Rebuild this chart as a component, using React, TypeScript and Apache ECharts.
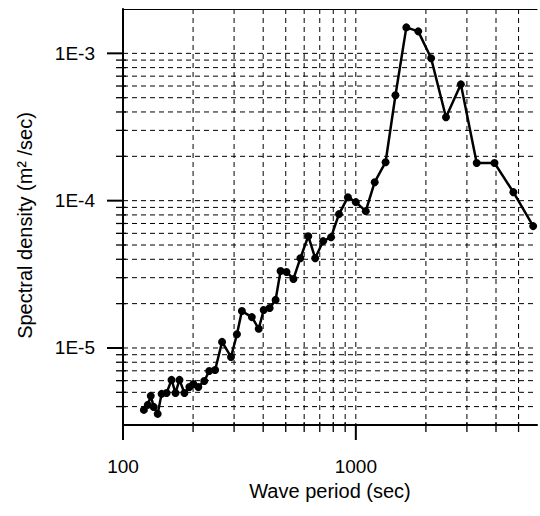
import React, { useEffect, useRef } from 'react';
import * as echarts from 'echarts';

// Wave period (sec)
const periods = [
  122.9, 127.8, 131.6, 135.5, 140.9, 146.5, 153.9, 161.6, 168.1, 174.8,
  183.6, 192.8, 200.5, 210.6, 223.4, 234.6, 248.7, 266.4, 291.0, 308.6,
  324.1, 357.5, 382.8, 402.0, 426.5, 452.3, 475.0, 503.8, 539.6, 577.9,
  624.9, 669.2, 723.7, 782.7, 846.6, 924.7, 1000, 1103, 1205, 1342,
  1480, 1648, 1854, 2106, 2439, 2826, 3305, 3942, 4750, 5777,
];
// Spectral density (m^2/sec)
const density = [
  3.80e-6, 4.11e-6, 4.73e-6, 3.98e-6, 3.57e-6, 4.88e-6, 4.95e-6, 6.07e-6, 4.95e-6, 6.07e-6,
  4.95e-6, 5.44e-6, 5.70e-6, 5.44e-6, 5.97e-6, 6.98e-6, 7.09e-6, 1.10e-5, 8.69e-6, 1.24e-5,
  1.78e-5, 1.62e-5, 1.35e-5, 1.81e-5, 1.87e-5, 2.12e-5, 3.33e-5, 3.28e-5, 2.94e-5, 4.07e-5,
  5.74e-5, 4.07e-5, 5.31e-5, 5.65e-5, 8.10e-5, 1.056e-4, 9.77e-5, 8.49e-5, 1.335e-4, 1.824e-4,
  5.19e-4, 1.50e-3, 1.41e-3, 9.25e-4, 3.68e-4, 6.16e-4, 1.80e-4, 1.80e-4, 1.142e-4, 6.72e-5,
];

const X_MIN = 100;
const X_MAX = 6000;
const Y_MIN = 3e-6;
const Y_MAX = 2e-3;

// tick / grid positions
const xTickValues = [100, 200, 300, 400, 500, 600, 700, 800, 900, 1000, 2000, 3000, 4000, 5000];
const yTickValues = [
  4e-6, 5e-6, 6e-6, 7e-6, 8e-6, 9e-6, 1e-5,
  2e-5, 3e-5, 4e-5, 5e-5, 6e-5, 7e-5, 8e-5, 9e-5, 1e-4,
  2e-4, 3e-4, 4e-4, 5e-4, 6e-4, 7e-4, 8e-4, 9e-4, 1e-3,
];
const xTickLabels: Record<string, string> = { '2': '100', '3': '1000' };
const yTickLabels: Record<string, string> = { '-5': '1E-5', '-4': '1E-4', '-3': '1E-3' };

const FONT = '"Liberation Sans", Arial, Helvetica, sans-serif';

function isDecade(v: number) {
  const e = Math.log10(v);
  return Math.abs(e - Math.round(e)) < 1e-6;
}
function decadeKey(v: number) {
  const e = Math.log10(v);
  if (Math.abs(e - Math.round(e)) > 1e-6) return null;
  return String(Math.round(e));
}

export default function App() {
  const ref = useRef<HTMLDivElement>(null);
  useEffect(() => {
    if (!ref.current) return;
    const chart = echarts.init(ref.current, null, { renderer: 'svg' });
    const dash = [5, 4];
    const option: any = {
      animation: false,
      backgroundColor: '#fff',
      grid: { left: 123, top: 9, width: 418, height: 416 },
      xAxis: [
        {
          type: 'log',
          logBase: 10,
          min: X_MIN,
          max: X_MAX,
          name: 'Wave period (sec)',
          nameLocation: 'middle',
          nameGap: 47,
          nameTextStyle: { fontFamily: FONT, fontSize: 20, color: '#000' },
          axisLine: { show: true, lineStyle: { color: '#000', width: 2 } },
          axisTick: { show: false },
          splitLine: { show: false },
          minorSplitLine: { show: false },
          axisLabel: {
            margin: 32,
            fontFamily: FONT,
            fontSize: 19,
            color: '#000',
            formatter: (v: number) => {
              const k = decadeKey(v);
              return k && xTickLabels[k] ? xTickLabels[k] : '';
            },
          },
        },
        {
          type: 'log',
          logBase: 10,
          min: X_MIN,
          max: X_MAX,
          position: 'top',
          axisLine: { show: true, lineStyle: { color: '#000', width: 1.2 } },
          axisTick: { show: false },
          axisLabel: { show: false },
          splitLine: { show: false },
        },
      ],
      yAxis: {
        type: 'log',
        logBase: 10,
        min: Y_MIN,
        max: Y_MAX,
        name: 'Spectral density (m² /sec)',
        nameLocation: 'middle',
        nameGap: 88,
        nameTextStyle: { fontFamily: FONT, fontSize: 20, color: '#000', padding: [0, 17, 0, 0] },
        axisLine: { show: true, lineStyle: { color: '#000', width: 2 } },
        axisTick: { show: false },
        splitLine: { show: false },
        axisLabel: {
          margin: 28,
          fontFamily: FONT,
          fontSize: 19,
          color: '#000',
          formatter: (v: number) => {
            const k = decadeKey(v);
            return k && yTickLabels[k] ? yTickLabels[k] : '';
          },
        },
      },
      series: [
        {
          type: 'custom',
          z: 1,
          clip: false,
          silent: true,
          data: xTickValues.map((v) => [v, Y_MIN]),
          encode: { x: 0, y: 1 },
          renderItem: (params: any, api: any) => {
            const v = api.value(0);
            const x = api.coord([v, Y_MIN])[0];
            const cs = params.coordSys;
            const top = cs.y;
            const bottom = cs.y + cs.height;
            const major = isDecade(v);
            const children: any[] = [];
            if (v > X_MIN) {
              children.push({
                type: 'line',
                shape: { x1: x, y1: top, x2: x, y2: bottom },
                style: { stroke: '#000', lineWidth: 1, lineDash: dash },
              });
            }
            children.push({
              type: 'line',
              shape: major
                ? { x1: x, y1: bottom, x2: x, y2: bottom + 15 }
                : { x1: x, y1: bottom - 3, x2: x, y2: bottom + 7 },
              style: { stroke: '#000', lineWidth: major ? 2 : 1.3 },
            });
            return { type: 'group', children };
          },
        },
        {
          type: 'custom',
          z: 1,
          clip: false,
          silent: true,
          data: yTickValues.map((v) => [X_MIN, v]),
          encode: { x: 0, y: 1 },
          renderItem: (params: any, api: any) => {
            const v = api.value(1);
            const y = api.coord([X_MIN, v])[1];
            const cs = params.coordSys;
            const left = cs.x;
            const right = cs.x + cs.width;
            const major = isDecade(v);
            return {
              type: 'group',
              children: [
                {
                  type: 'line',
                  shape: { x1: left, y1: y, x2: right, y2: y },
                  style: { stroke: '#000', lineWidth: 1, lineDash: dash },
                },
                {
                  type: 'line',
                  shape: major
                    ? { x1: left - 16, y1: y, x2: left, y2: y }
                    : { x1: left - 7, y1: y, x2: left + 3, y2: y },
                  style: { stroke: '#000', lineWidth: major ? 2 : 1.3 },
                },
              ],
            };
          },
        },
        {
          type: 'line',
          z: 3,
          data: periods.map((p, i) => [p, density[i]]),
          symbol: 'circle',
          symbolSize: 8,
          showSymbol: true,
          itemStyle: { color: '#000' },
          lineStyle: { color: '#000', width: 2.5 },
        },
      ],
    };
    chart.setOption(option);
    return () => chart.dispose();
  }, []);
  return (
    <div
      ref={ref}
      style={{ position: 'fixed', left: 0, top: 0, width: 540, height: 516, background: '#fff' }}
    />
  );
}
